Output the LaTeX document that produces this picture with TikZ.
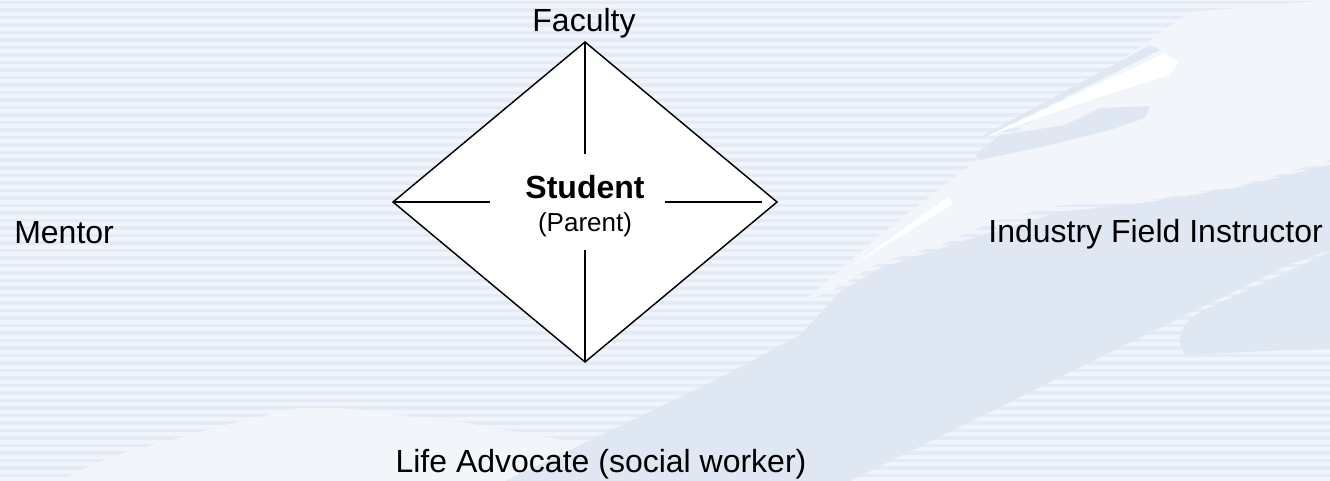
\documentclass[tikz,border=0pt]{standalone}
\usepackage{fontspec}
\setmainfont{Liberation Sans}
\usetikzlibrary{shapes.geometric, positioning}
\definecolor{bglight}{RGB}{241,245,251}
\definecolor{bgstripe}{RGB}{226,235,246}
\definecolor{bgpale}{RGB}{242,246,250}
\definecolor{bgmid}{RGB}{223,232,242}
\tikzset{
    hubshape/.style={diamond, draw=black, fill=white, line width=1.1pt,
                     minimum width=288pt, minimum height=240pt, inner sep=0pt, outer sep=0pt},
    rolelabel/.style={font=\fontsize{24}{28}\selectfont, inner sep=0pt},
    hubtitle/.style={font=\fontsize{24}{28}\selectfont\bfseries, anchor=base, inner sep=0pt},
    hubnote/.style={font=\fontsize{19.5}{23}\selectfont, anchor=base, inner sep=0pt},
    spoke/.style={line width=1.1pt, black},
}
\begin{document}
\begin{tikzpicture}[x=0.75pt, y=-0.75pt]
            \useasboundingbox (0,0) rectangle (1330,481);
            % background
            \fill[bglight] (0,0) rectangle (1330,481);
            \foreach \k in {0,...,64}
                \fill[bgstripe] (0,{\k*7.5+1}) rectangle (1330,{\k*7.5+4.5});
            \fill[bgpale] (60,481) -- (110,457) -- (233,423) -- (300,408) -- (340,408) -- (467,423) -- (600,447) -- (640,481) -- cycle;
            \fill[bgpale] (805,300) -- (880,235) -- (990,150) -- (1100,75) -- (1190,12) -- (1330,0) -- (1330,160) -- (1240,185) -- (1150,200) -- (1060,205) -- (990,222) -- (940,245) -- (880,262) -- (830,292) -- cycle;
            \fill[bgmid] (505,481) -- (720,378) -- (800,335) -- (840,292) -- (880,268) -- (960,242) -- (1060,212) -- (1150,202) -- (1240,187) -- (1330,165) -- (1330,250) -- (1285,266) -- (850,481) -- cycle;
            \fill[bgmid] (1185,355) .. controls (1175,340) and (1180,325) .. (1200,312) -- (1330,252) -- (1330,348) -- cycle;
            \fill[bgmid] (975,155) -- (1000,135) -- (1065,125) -- (1100,108) -- (1150,106) -- (1145,118) -- (1110,130) -- (1050,145) -- (980,160) -- cycle;
            \fill[bgmid] (975,140) -- (1150,45) -- (1160,50) -- (985,137) -- cycle;
            \fill[white] (985,137) -- (1165,53) -- (1178,62) -- (1170,75) -- (1090,100) -- cycle;
            \fill[white] (852,266) -- (948,197) -- (953,204) -- cycle;

            % diagram
            \node[hubshape] (hub) at (585,202) {};
            \node[hubtitle] (student) at (585,198) {Student};
            \node[hubnote] (parent) at (585,231) {(Parent)};
            \coordinate (topend) at (585,154);
            \coordinate (leftend) at (490,202);
            \coordinate (rightstart) at (665,202);
            \coordinate (rightend) at (762,202);
            \coordinate (bottomstart) at (585,250);
            \draw[spoke] (hub.north) -- (topend);
            \draw[spoke] (hub.west) -- (leftend);
            \draw[spoke] (rightstart) -- (rightend);
            \draw[spoke] (bottomstart) -- (hub.south);

            \node[rolelabel, anchor=base] (faculty) at (584,32) {Faculty};
            \node[rolelabel, anchor=base west] (mentor) at (14,243) {Mentor};
            \node[rolelabel, anchor=base east] (industry) at (1323,242) {Industry Field Instructor};
            \node[rolelabel, anchor=base] (advocate) at (601,472) {Life Advocate (social worker)};
        \end{tikzpicture}
\end{document}
